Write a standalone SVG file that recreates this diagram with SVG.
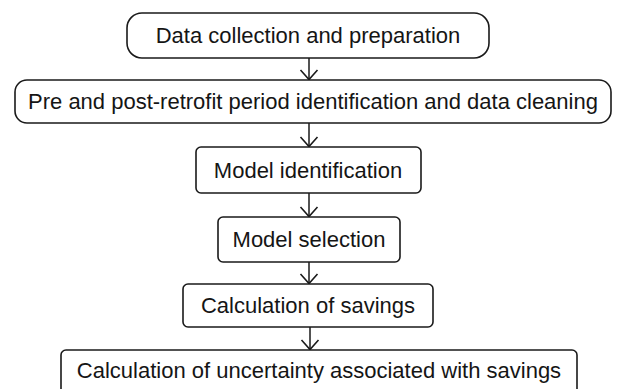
<svg xmlns="http://www.w3.org/2000/svg" width="623" height="389" viewBox="0 0 623 389">
<defs>
<style>
.box{fill:#fff;stroke:#1a1a1a;stroke-width:1.6}
.lbl{font-family:"Liberation Sans",Arial,sans-serif;font-size:22px;fill:#151515;text-anchor:middle}
.conn{stroke:#1a1a1a;stroke-width:1.5;fill:none}
</style>
<marker id="vee" viewBox="0 0 12 20" refX="11" refY="10" markerWidth="12" markerHeight="20" markerUnits="userSpaceOnUse" orient="auto">
<path d="M1,1.5 L10.5,10 L1,18.5" fill="none" stroke="#1a1a1a" stroke-width="1.6"/>
</marker>
</defs>
<rect width="623" height="389" fill="#fff"/>
<g id="connectors">
<line class="conn" x1="309" y1="58" x2="309" y2="80" marker-end="url(#vee)"/>
<line class="conn" x1="309" y1="123" x2="309" y2="147" marker-end="url(#vee)"/>
<line class="conn" x1="309" y1="193" x2="309" y2="217" marker-end="url(#vee)"/>
<line class="conn" x1="309" y1="262" x2="309" y2="284" marker-end="url(#vee)"/>
<line class="conn" x1="310" y1="327" x2="310" y2="350" marker-end="url(#vee)"/>
</g>
<g id="n1">
<rect class="box" x="127" y="13" width="362" height="45" rx="15"/>
<text class="lbl" x="308" y="43">Data collection and preparation</text>
</g>
<g id="n2">
<rect class="box" x="15" y="80" width="596" height="43" rx="12"/>
<text class="lbl" x="313" y="109">Pre and post-retrofit period identification and data cleaning</text>
</g>
<g id="n3">
<rect class="box" x="196" y="147" width="225" height="46" rx="5"/>
<text class="lbl" x="308" y="178">Model identification</text>
</g>
<g id="n4">
<rect class="box" x="218" y="217" width="182" height="45" rx="5"/>
<text class="lbl" x="309" y="247">Model selection</text>
</g>
<g id="n5">
<rect class="box" x="183" y="284" width="250" height="43" rx="5"/>
<text class="lbl" x="308" y="313">Calculation of savings</text>
</g>
<g id="n6">
<rect class="box" x="61" y="350" width="516" height="50" rx="5"/>
<text class="lbl" x="319" y="378">Calculation of uncertainty associated with savings</text>
</g>
</svg>
